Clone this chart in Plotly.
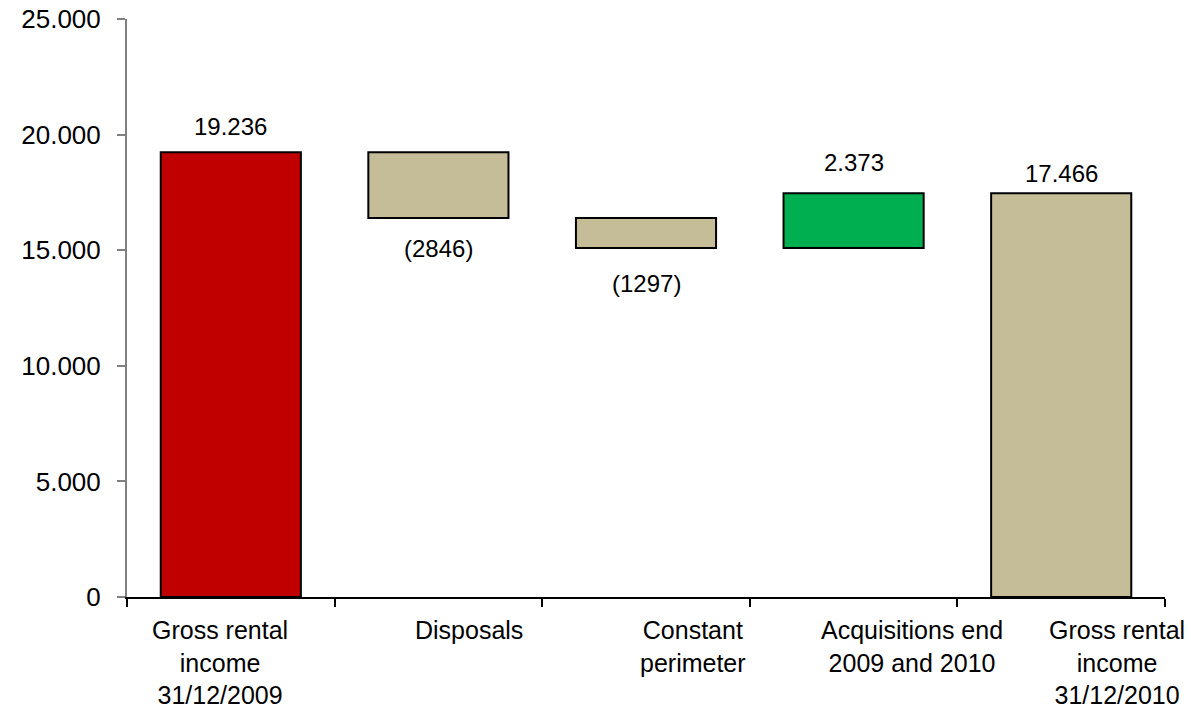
import plotly.graph_objects as go

# Gross rental income bridge, 2009 -> 2010
categories = [
    "Gross rental income 31/12/2009",
    "Disposals",
    "Constant perimeter",
    "Acquisitions end 2009 and 2010",
    "Gross rental income 31/12/2010",
]
category_labels = [
    "Gross rental<br>income<br>31/12/2009",
    "Disposals",
    "Constant<br>perimeter",
    "Acquisitions end<br>2009 and 2010",
    "Gross rental<br>income<br>31/12/2010",
]
opening = 19236
changes = [-2846, -1297, 2373]
closing = 17466
bar_labels = ["19.236", "(2846)", "(1297)", "2.373", "17.466"]
bar_colors = ["#C00000", "#C4BD97", "#C4BD97", "#00B050", "#C4BD97"]
y_ticks = [0, 5000, 10000, 15000, 20000, 25000]
y_tick_text = ["0", "5.000", "10.000", "15.000", "20.000", "25.000"]

# label placement (pixels): gap from bar edge to label centre, and
# horizontal shift of the category captions below the axis
label_gap = [26, 30, 35, 31, 20]
caption_shift = [-11, 31, 47, 58, 56]

# floating bars: bases and heights from the running total
bases, heights = [0], [opening]
level = opening
for c in changes:
    new_level = level + c
    bases.append(min(level, new_level))
    heights.append(abs(c))
    level = new_level
bases.append(0)
heights.append(closing)
signs = [1] + [1 if c >= 0 else -1 for c in changes] + [1]

family = "Liberation Sans, Arial, sans-serif"
label_font = dict(family=family, size=24, color="#000000")
caption_font = dict(family=family, size=25, color="#000000")
tick_font = dict(family=family, size=26, color="#000000")

fig = go.Figure(
    go.Bar(
        x=categories,
        y=heights,
        base=bases,
        width=0.675,
        marker=dict(color=bar_colors, line=dict(color="#000000", width=2)),
        hoverinfo="skip",
    )
)

# value labels: above rising/total bars, below falling bars
for cat, b, h, s, txt, gap in zip(categories, bases, heights, signs, bar_labels, label_gap):
    fig.add_annotation(
        x=cat, y=(b + h) if s > 0 else b, text=txt, showarrow=False,
        yanchor="middle", yshift=gap if s > 0 else -gap, font=label_font,
    )

# category captions under the axis
for cat, txt, dx in zip(categories, category_labels, caption_shift):
    fig.add_annotation(
        x=cat, y=0, yref="paper", text=txt, showarrow=False,
        yanchor="top", yshift=-17, xshift=dx, align="center", font=caption_font,
    )

fig.update_layout(
    width=1191,
    height=709,
    margin=dict(l=127, r=26, t=19, b=112, autoexpand=False),
    paper_bgcolor="#FFFFFF",
    plot_bgcolor="#FFFFFF",
    showlegend=False,
)
fig.update_xaxes(
    type="category",
    range=[-0.5, len(categories) - 0.5],
    showline=True,
    linecolor="#000000",
    linewidth=2,
    ticks="outside",
    tickson="boundaries",
    ticklen=8,
    tickwidth=2,
    tickcolor="#000000",
    showgrid=False,
    showticklabels=False,
    automargin=False,
)
fig.update_yaxes(
    range=[0, 25000],
    tickvals=y_ticks,
    ticktext=y_tick_text,
    showline=True,
    linecolor="#808080",
    linewidth=2,
    ticks="outside",
    ticklen=8,
    tickwidth=2,
    tickcolor="#808080",
    showgrid=False,
    zeroline=False,
    tickfont=tick_font,
    ticklabelstandoff=11,
    automargin=False,
)

fig.write_html("out.html")
